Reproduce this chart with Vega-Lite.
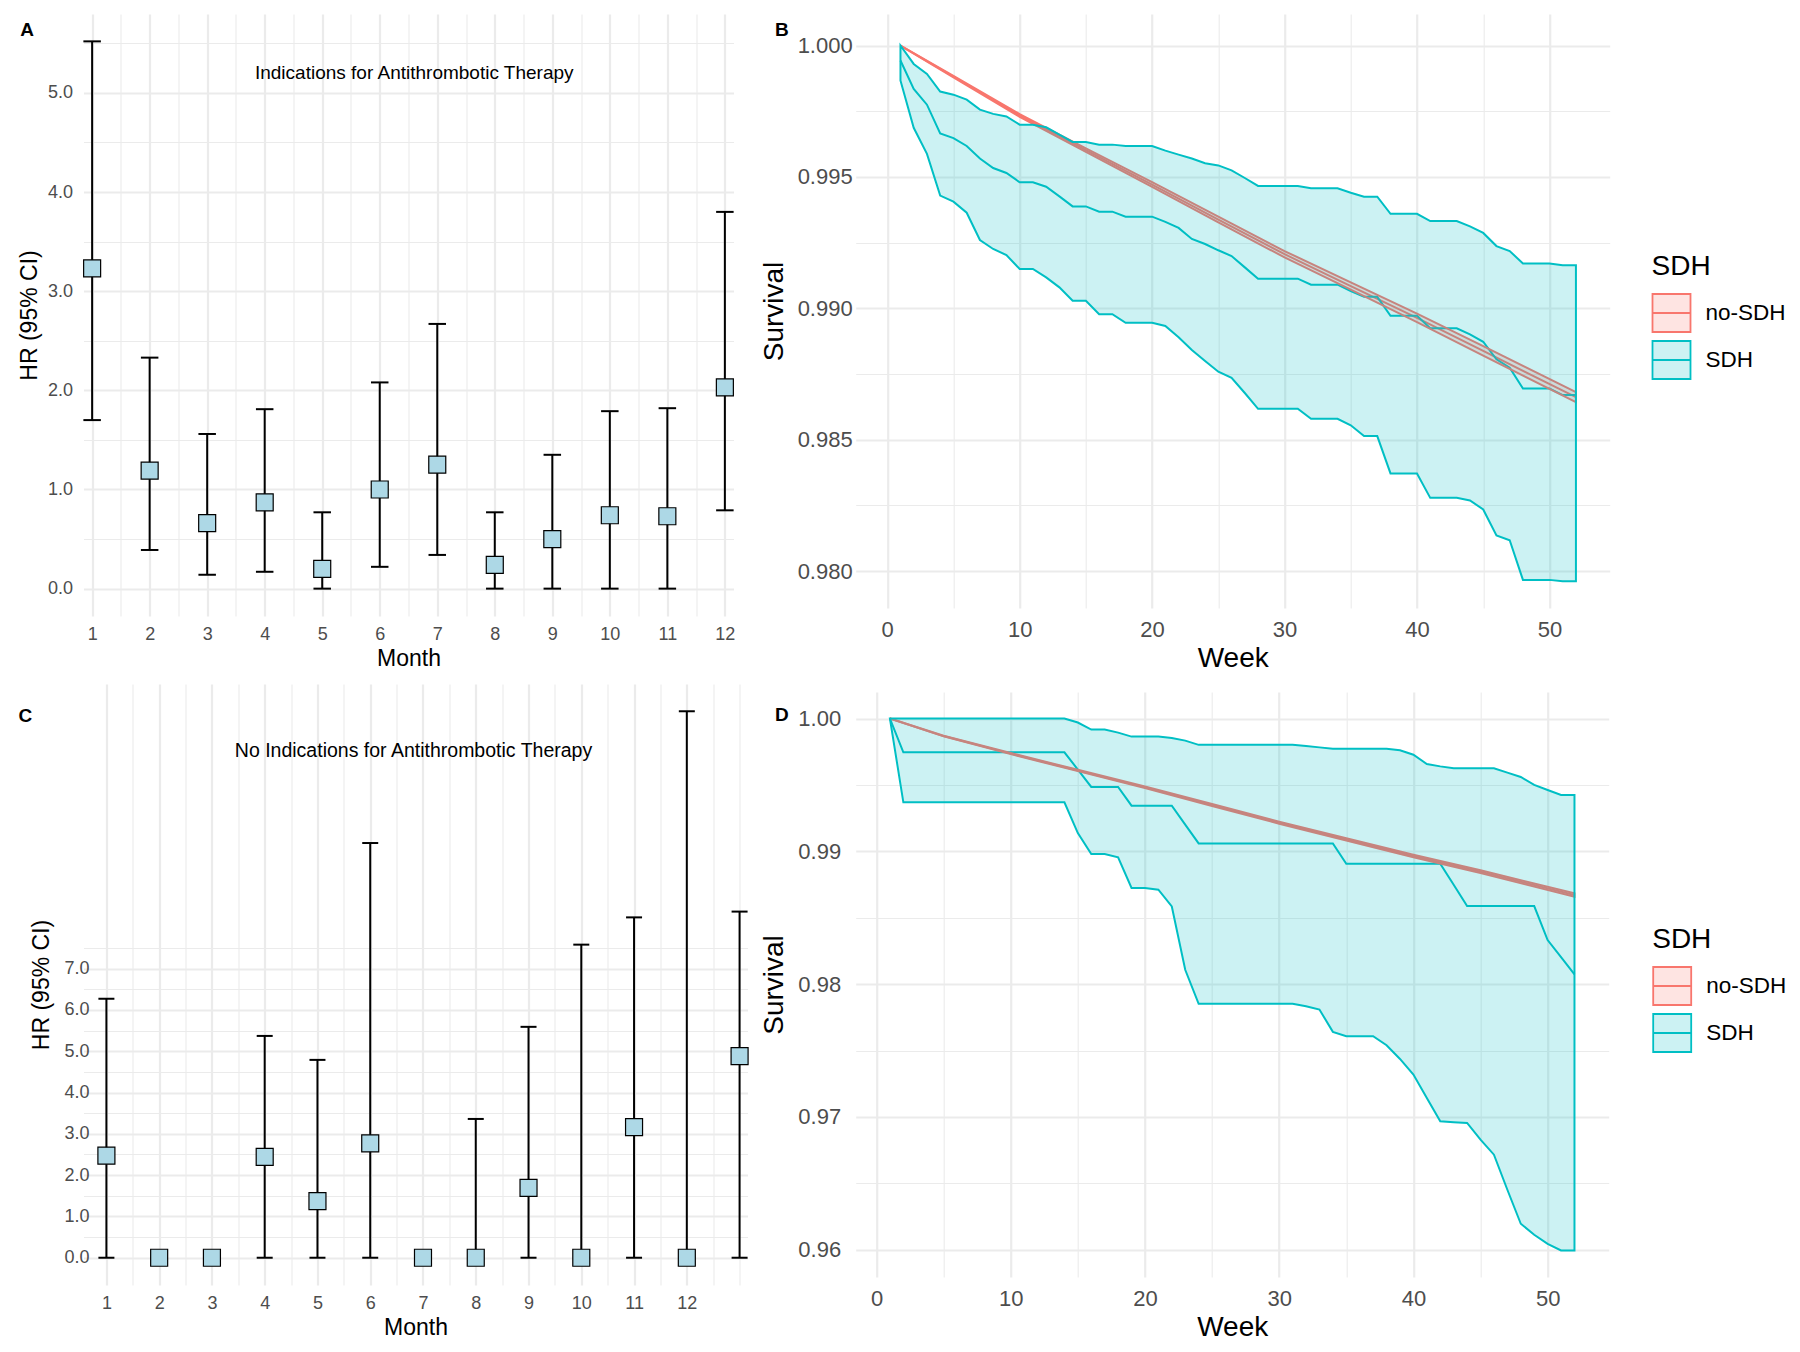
{
  "$schema": "https://vega.github.io/schema/vega-lite/v6.json",
  "background": "white",
  "padding": {"left": 17.5, "top": 14, "right": 0, "bottom": 0},
  "config": {
    "view": {"stroke": null},
    "font": "Liberation Sans",
    "axis": {"domain": false, "ticks": false, "gridColor": "#EBEBEB", "labelColor": "#4D4D4D", "titleColor": "black", "titleFontWeight": "normal", "labelFont": "Liberation Sans", "titleFont": "Liberation Sans", "labelOverlap": false, "labelFlush": false},
    "title": {"font": "Liberation Sans", "color": "black"}
  },
  "datasets": {
    "hrA": [
      {"m": 1, "hr": 3.23, "lo": 1.70, "hi": 5.52},
      {"m": 2, "hr": 1.19, "lo": 0.39, "hi": 2.33},
      {"m": 3, "hr": 0.66, "lo": 0.14, "hi": 1.56},
      {"m": 4, "hr": 0.87, "lo": 0.17, "hi": 1.81},
      {"m": 5, "hr": 0.20, "lo": 0.0, "hi": 0.77},
      {"m": 6, "hr": 1.00, "lo": 0.22, "hi": 2.08},
      {"m": 7, "hr": 1.25, "lo": 0.34, "hi": 2.67},
      {"m": 8, "hr": 0.24, "lo": 0.0, "hi": 0.77},
      {"m": 9, "hr": 0.50, "lo": 0.0, "hi": 1.35},
      {"m": 10, "hr": 0.74, "lo": 0.0, "hi": 1.79},
      {"m": 11, "hr": 0.73, "lo": 0.0, "hi": 1.82},
      {"m": 12, "hr": 2.03, "lo": 0.79, "hi": 3.80}
    ],
    "hrC": [
      {"m": 1, "hr": 2.47, "lo": 0.0, "hi": 6.27},
      {"m": 2, "hr": 0.0, "lo": 0.0, "hi": 0.0},
      {"m": 3, "hr": 0.0, "lo": 0.0, "hi": 0.0},
      {"m": 4, "hr": 2.44, "lo": 0.0, "hi": 5.37},
      {"m": 5, "hr": 1.37, "lo": 0.0, "hi": 4.79},
      {"m": 6, "hr": 2.77, "lo": 0.0, "hi": 10.04},
      {"m": 7, "hr": 0.0, "lo": 0.0, "hi": 0.0},
      {"m": 8, "hr": 0.0, "lo": 0.0, "hi": 3.36},
      {"m": 9, "hr": 1.69, "lo": 0.0, "hi": 5.59},
      {"m": 10, "hr": 0.0, "lo": 0.0, "hi": 7.58},
      {"m": 11, "hr": 3.16, "lo": 0.0, "hi": 8.24},
      {"m": 12, "hr": 0.0, "lo": 0.0, "hi": 13.23},
      {"m": 13, "hr": 4.88, "lo": 0.0, "hi": 8.38}
    ],
    "svB": [
      {"g": "no-SDH", "w": 1, "s": 1.0, "lo": 1.0, "hi": 1.0},
      {"g": "no-SDH", "w": 5, "s": 0.99882, "lo": 0.99879, "hi": 0.99885},
      {"g": "no-SDH", "w": 10, "s": 0.99734, "lo": 0.99729, "hi": 0.99739},
      {"g": "no-SDH", "w": 15, "s": 0.99602, "lo": 0.99595, "hi": 0.99609},
      {"g": "no-SDH", "w": 20, "s": 0.99471, "lo": 0.99462, "hi": 0.99480},
      {"g": "no-SDH", "w": 25, "s": 0.99338, "lo": 0.99327, "hi": 0.99349},
      {"g": "no-SDH", "w": 30, "s": 0.99206, "lo": 0.99194, "hi": 0.99218},
      {"g": "no-SDH", "w": 35, "s": 0.99085, "lo": 0.99071, "hi": 0.99099},
      {"g": "no-SDH", "w": 40, "s": 0.98964, "lo": 0.98948, "hi": 0.98980},
      {"g": "no-SDH", "w": 45, "s": 0.98838, "lo": 0.98820, "hi": 0.98856},
      {"g": "no-SDH", "w": 52, "s": 0.98662, "lo": 0.98643, "hi": 0.98681},
      {"g": "SDH", "w": 1, "s": 0.99943, "lo": 0.99867, "hi": 1.0},
      {"g": "SDH", "w": 2, "s": 0.99835, "lo": 0.99687, "hi": 0.99930},
      {"g": "SDH", "w": 3, "s": 0.99775, "lo": 0.99588, "hi": 0.99892},
      {"g": "SDH", "w": 4, "s": 0.99666, "lo": 0.99429, "hi": 0.99825},
      {"g": "SDH", "w": 5, "s": 0.99648, "lo": 0.99406, "hi": 0.99813},
      {"g": "SDH", "w": 6, "s": 0.99618, "lo": 0.99364, "hi": 0.99794},
      {"g": "SDH", "w": 7, "s": 0.99570, "lo": 0.99260, "hi": 0.99756},
      {"g": "SDH", "w": 8, "s": 0.99534, "lo": 0.99226, "hi": 0.99740},
      {"g": "SDH", "w": 9, "s": 0.99515, "lo": 0.99203, "hi": 0.99730},
      {"g": "SDH", "w": 10, "s": 0.99480, "lo": 0.99150, "hi": 0.99699},
      {"g": "SDH", "w": 11, "s": 0.99480, "lo": 0.99150, "hi": 0.99699},
      {"g": "SDH", "w": 12, "s": 0.99463, "lo": 0.99118, "hi": 0.99689},
      {"g": "SDH", "w": 13, "s": 0.99426, "lo": 0.99080, "hi": 0.99661},
      {"g": "SDH", "w": 14, "s": 0.99388, "lo": 0.99029, "hi": 0.99633},
      {"g": "SDH", "w": 15, "s": 0.99388, "lo": 0.99029, "hi": 0.99633},
      {"g": "SDH", "w": 16, "s": 0.99368, "lo": 0.98978, "hi": 0.99623},
      {"g": "SDH", "w": 17, "s": 0.99368, "lo": 0.98978, "hi": 0.99623},
      {"g": "SDH", "w": 18, "s": 0.99349, "lo": 0.98945, "hi": 0.99618},
      {"g": "SDH", "w": 19, "s": 0.99349, "lo": 0.98945, "hi": 0.99618},
      {"g": "SDH", "w": 20, "s": 0.99349, "lo": 0.98945, "hi": 0.99618},
      {"g": "SDH", "w": 21, "s": 0.99329, "lo": 0.98933, "hi": 0.99600},
      {"g": "SDH", "w": 22, "s": 0.99306, "lo": 0.98890, "hi": 0.99585},
      {"g": "SDH", "w": 23, "s": 0.99264, "lo": 0.98842, "hi": 0.99570},
      {"g": "SDH", "w": 24, "s": 0.99245, "lo": 0.98800, "hi": 0.99552},
      {"g": "SDH", "w": 25, "s": 0.99221, "lo": 0.98759, "hi": 0.99544},
      {"g": "SDH", "w": 26, "s": 0.99199, "lo": 0.98736, "hi": 0.99525},
      {"g": "SDH", "w": 27, "s": 0.99156, "lo": 0.98678, "hi": 0.99496},
      {"g": "SDH", "w": 28, "s": 0.99113, "lo": 0.98618, "hi": 0.99466},
      {"g": "SDH", "w": 29, "s": 0.99113, "lo": 0.98618, "hi": 0.99466},
      {"g": "SDH", "w": 30, "s": 0.99113, "lo": 0.98618, "hi": 0.99466},
      {"g": "SDH", "w": 31, "s": 0.99113, "lo": 0.98618, "hi": 0.99466},
      {"g": "SDH", "w": 32, "s": 0.99090, "lo": 0.98580, "hi": 0.99457},
      {"g": "SDH", "w": 33, "s": 0.99090, "lo": 0.98580, "hi": 0.99457},
      {"g": "SDH", "w": 34, "s": 0.99090, "lo": 0.98580, "hi": 0.99457},
      {"g": "SDH", "w": 35, "s": 0.99066, "lo": 0.98555, "hi": 0.99440},
      {"g": "SDH", "w": 36, "s": 0.99044, "lo": 0.98514, "hi": 0.99425},
      {"g": "SDH", "w": 37, "s": 0.99044, "lo": 0.98514, "hi": 0.99425},
      {"g": "SDH", "w": 38, "s": 0.98972, "lo": 0.98372, "hi": 0.99360},
      {"g": "SDH", "w": 39, "s": 0.98972, "lo": 0.98372, "hi": 0.99360},
      {"g": "SDH", "w": 40, "s": 0.98972, "lo": 0.98372, "hi": 0.99360},
      {"g": "SDH", "w": 41, "s": 0.98924, "lo": 0.98279, "hi": 0.99332},
      {"g": "SDH", "w": 42, "s": 0.98924, "lo": 0.98279, "hi": 0.99332},
      {"g": "SDH", "w": 43, "s": 0.98924, "lo": 0.98279, "hi": 0.99332},
      {"g": "SDH", "w": 44, "s": 0.98901, "lo": 0.98269, "hi": 0.99312},
      {"g": "SDH", "w": 45, "s": 0.98873, "lo": 0.98235, "hi": 0.99287},
      {"g": "SDH", "w": 46, "s": 0.98806, "lo": 0.98136, "hi": 0.99237},
      {"g": "SDH", "w": 47, "s": 0.98774, "lo": 0.98118, "hi": 0.99218},
      {"g": "SDH", "w": 48, "s": 0.98695, "lo": 0.97967, "hi": 0.99171},
      {"g": "SDH", "w": 49, "s": 0.98695, "lo": 0.97967, "hi": 0.99171},
      {"g": "SDH", "w": 50, "s": 0.98695, "lo": 0.97967, "hi": 0.99171},
      {"g": "SDH", "w": 51, "s": 0.98670, "lo": 0.97962, "hi": 0.99164},
      {"g": "SDH", "w": 52, "s": 0.98670, "lo": 0.97962, "hi": 0.99164}
    ],
    "svD": [
      {"g": "no-SDH", "w": 1, "s": 1.0, "lo": 1.0, "hi": 1.0},
      {"g": "no-SDH", "w": 5, "s": 0.99868, "lo": 0.99866, "hi": 0.99870},
      {"g": "no-SDH", "w": 10, "s": 0.99736, "lo": 0.99732, "hi": 0.99740},
      {"g": "no-SDH", "w": 15, "s": 0.99609, "lo": 0.99604, "hi": 0.99614},
      {"g": "no-SDH", "w": 20, "s": 0.99482, "lo": 0.99476, "hi": 0.99488},
      {"g": "no-SDH", "w": 25, "s": 0.99349, "lo": 0.99342, "hi": 0.99356},
      {"g": "no-SDH", "w": 30, "s": 0.99216, "lo": 0.99208, "hi": 0.99224},
      {"g": "no-SDH", "w": 35, "s": 0.99090, "lo": 0.99081, "hi": 0.99099},
      {"g": "no-SDH", "w": 40, "s": 0.98965, "lo": 0.98955, "hi": 0.98975},
      {"g": "no-SDH", "w": 45, "s": 0.98847, "lo": 0.98836, "hi": 0.98858},
      {"g": "no-SDH", "w": 52, "s": 0.98671, "lo": 0.98658, "hi": 0.98684},
      {"g": "SDH", "w": 1, "s": 1.0, "lo": 1.0, "hi": 1.0},
      {"g": "SDH", "w": 2, "s": 0.99746, "lo": 0.99369, "hi": 1.0},
      {"g": "SDH", "w": 3, "s": 0.99746, "lo": 0.99369, "hi": 1.0},
      {"g": "SDH", "w": 4, "s": 0.99746, "lo": 0.99369, "hi": 1.0},
      {"g": "SDH", "w": 5, "s": 0.99746, "lo": 0.99369, "hi": 1.0},
      {"g": "SDH", "w": 6, "s": 0.99746, "lo": 0.99369, "hi": 1.0},
      {"g": "SDH", "w": 7, "s": 0.99746, "lo": 0.99369, "hi": 1.0},
      {"g": "SDH", "w": 8, "s": 0.99746, "lo": 0.99369, "hi": 1.0},
      {"g": "SDH", "w": 9, "s": 0.99746, "lo": 0.99369, "hi": 1.0},
      {"g": "SDH", "w": 10, "s": 0.99746, "lo": 0.99369, "hi": 1.0},
      {"g": "SDH", "w": 11, "s": 0.99746, "lo": 0.99369, "hi": 1.0},
      {"g": "SDH", "w": 12, "s": 0.99746, "lo": 0.99369, "hi": 1.0},
      {"g": "SDH", "w": 13, "s": 0.99746, "lo": 0.99369, "hi": 1.0},
      {"g": "SDH", "w": 14, "s": 0.99746, "lo": 0.99369, "hi": 1.0},
      {"g": "SDH", "w": 15, "s": 0.99616, "lo": 0.99138, "hi": 0.99970},
      {"g": "SDH", "w": 16, "s": 0.99485, "lo": 0.98980, "hi": 0.99917},
      {"g": "SDH", "w": 17, "s": 0.99485, "lo": 0.98980, "hi": 0.99917},
      {"g": "SDH", "w": 18, "s": 0.99485, "lo": 0.98955, "hi": 0.99894},
      {"g": "SDH", "w": 19, "s": 0.99344, "lo": 0.98724, "hi": 0.99864},
      {"g": "SDH", "w": 20, "s": 0.99344, "lo": 0.98724, "hi": 0.99864},
      {"g": "SDH", "w": 21, "s": 0.99344, "lo": 0.98711, "hi": 0.99864},
      {"g": "SDH", "w": 22, "s": 0.99344, "lo": 0.98585, "hi": 0.99854},
      {"g": "SDH", "w": 23, "s": 0.99201, "lo": 0.98108, "hi": 0.99834},
      {"g": "SDH", "w": 24, "s": 0.99060, "lo": 0.97852, "hi": 0.99802},
      {"g": "SDH", "w": 25, "s": 0.99060, "lo": 0.97852, "hi": 0.99802},
      {"g": "SDH", "w": 26, "s": 0.99060, "lo": 0.97852, "hi": 0.99802},
      {"g": "SDH", "w": 27, "s": 0.99060, "lo": 0.97852, "hi": 0.99802},
      {"g": "SDH", "w": 28, "s": 0.99060, "lo": 0.97852, "hi": 0.99802},
      {"g": "SDH", "w": 29, "s": 0.99060, "lo": 0.97852, "hi": 0.99802},
      {"g": "SDH", "w": 30, "s": 0.99060, "lo": 0.97852, "hi": 0.99802},
      {"g": "SDH", "w": 31, "s": 0.99060, "lo": 0.97852, "hi": 0.99802},
      {"g": "SDH", "w": 32, "s": 0.99060, "lo": 0.97834, "hi": 0.99793},
      {"g": "SDH", "w": 33, "s": 0.99060, "lo": 0.97809, "hi": 0.99783},
      {"g": "SDH", "w": 34, "s": 0.99060, "lo": 0.97641, "hi": 0.99773},
      {"g": "SDH", "w": 35, "s": 0.98907, "lo": 0.97608, "hi": 0.99773},
      {"g": "SDH", "w": 36, "s": 0.98907, "lo": 0.97608, "hi": 0.99773},
      {"g": "SDH", "w": 37, "s": 0.98907, "lo": 0.97608, "hi": 0.99773},
      {"g": "SDH", "w": 38, "s": 0.98907, "lo": 0.97540, "hi": 0.99773},
      {"g": "SDH", "w": 39, "s": 0.98907, "lo": 0.97437, "hi": 0.99761},
      {"g": "SDH", "w": 40, "s": 0.98907, "lo": 0.97319, "hi": 0.99728},
      {"g": "SDH", "w": 41, "s": 0.98907, "lo": 0.97143, "hi": 0.99658},
      {"g": "SDH", "w": 42, "s": 0.98907, "lo": 0.96967, "hi": 0.99640},
      {"g": "SDH", "w": 43, "s": 0.98749, "lo": 0.96960, "hi": 0.99626},
      {"g": "SDH", "w": 44, "s": 0.98588, "lo": 0.96955, "hi": 0.99626},
      {"g": "SDH", "w": 45, "s": 0.98588, "lo": 0.96829, "hi": 0.99626},
      {"g": "SDH", "w": 46, "s": 0.98588, "lo": 0.96716, "hi": 0.99626},
      {"g": "SDH", "w": 47, "s": 0.98588, "lo": 0.96452, "hi": 0.99593},
      {"g": "SDH", "w": 48, "s": 0.98588, "lo": 0.96196, "hi": 0.99560},
      {"g": "SDH", "w": 49, "s": 0.98588, "lo": 0.96113, "hi": 0.99500},
      {"g": "SDH", "w": 50, "s": 0.98332, "lo": 0.96045, "hi": 0.99462},
      {"g": "SDH", "w": 51, "s": 0.98204, "lo": 0.95995, "hi": 0.99425},
      {"g": "SDH", "w": 52, "s": 0.98073, "lo": 0.95995, "hi": 0.99425}
    ]
  },
  "spacing": 9.2,
  "resolve": {"scale": {"x": "independent", "y": "independent", "color": "independent"}, "legend": {"color": "independent"}, "axis": {"x": "independent", "y": "independent"}},
  "hconcat": [
    {
      "columns": 1,
      "spacing": 14,
      "resolve": {"scale": {"x": "independent", "y": "independent", "color": "independent"}, "legend": {"color": "independent"}, "axis": {"x": "independent", "y": "independent"}},
      "concat": [
        {
          "width": 650, "height": 602,
          "title": {"text": "A", "anchor": "start", "frame": "group", "orient": "top", "offset": -41, "dx": -63.3, "baseline": "alphabetic", "fontSize": 19, "fontWeight": "bold"},
          "data": {"name": "hrA"},
          "encoding": {
            "x": {"field": "m", "type": "quantitative", "scale": {"domain": [0.85, 12.15], "nice": false, "zero": false},
              "axis": {"title": "Month", "values": [1,1.5,2,2.5,3,3.5,4,4.5,5,5.5,6,6.5,7,7.5,8,8.5,9,9.5,10,10.5,11,11.5,12],
                "labelExpr": "datum.value % 1 === 0 ? format(datum.value, 'd') : ''",
                "gridWidth": {"condition": {"test": "datum.value % 1 !== 0", "value": 1.1}, "value": 2.2},
                "labelFontSize": 18, "titleFontSize": 23, "labelPadding": 9, "titlePadding": 4}}
          },
          "layer": [
            {"mark": {"type": "rule", "color": "black", "strokeWidth": 2},
             "encoding": {"y": {"field": "lo", "type": "quantitative", "scale": {"domain": [-0.276, 5.796], "nice": false, "zero": false},
               "axis": {"title": "HR (95% CI)", "values": [0,0.5,1,1.5,2,2.5,3,3.5,4,4.5,5,5.5],
                 "labelExpr": "datum.value % 1 === 0 ? format(datum.value, '.1f') : ''",
                 "gridWidth": {"condition": {"test": "datum.value % 1 !== 0", "value": 1.1}, "value": 2.2},
                 "labelFontSize": 18, "titleFontSize": 23, "labelPadding": 11, "titlePadding": 6}},
               "y2": {"field": "hi"}}},
            {"mark": {"type": "tick", "orient": "horizontal", "color": "black", "thickness": 2, "size": 17.5, "opacity": 1},
             "encoding": {"y": {"field": "lo", "type": "quantitative"}}},
            {"mark": {"type": "tick", "orient": "horizontal", "color": "black", "thickness": 2, "size": 17.5, "opacity": 1},
             "encoding": {"y": {"field": "hi", "type": "quantitative"}}},
            {"mark": {"type": "point", "shape": "square", "size": 289, "filled": true, "fill": "#ADD8E6", "stroke": "black", "strokeWidth": 1.2, "opacity": 1},
             "encoding": {"y": {"field": "hr", "type": "quantitative"}}},
            {"data": {"values": [{"t": "Indications for Antithrombotic Therapy", "tx": 6.6, "ty": 5.2}]},
             "mark": {"type": "text", "fontSize": 19, "color": "black", "font": "Liberation Sans"},
             "encoding": {"x": {"field": "tx", "type": "quantitative"}, "y": {"field": "ty", "type": "quantitative"}, "text": {"field": "t"}}}
          ]
        },
        {
          "width": 664, "height": 601,
          "title": {"text": "C", "anchor": "start", "frame": "group", "orient": "top", "offset": -56.7, "dx": -65, "baseline": "alphabetic", "fontSize": 19, "fontWeight": "bold"},
          "data": {"name": "hrC"},
          "encoding": {
            "x": {"field": "m", "type": "quantitative", "scale": {"domain": [0.566, 13.15], "nice": false, "zero": false},
              "axis": {"title": "Month", "values": [1,1.5,2,2.5,3,3.5,4,4.5,5,5.5,6,6.5,7,7.5,8,8.5,9,9.5,10,10.5,11,11.5,12,12.5,13],
                "labelExpr": "(datum.value % 1 === 0 && datum.value < 12.5) ? format(datum.value, 'd') : ''",
                "gridWidth": {"condition": {"test": "datum.value % 1 !== 0 || datum.value > 12.5", "value": 1.1}, "value": 2.2},
                "labelFontSize": 18, "titleFontSize": 23, "labelPadding": 9, "titlePadding": 4}}
          },
          "layer": [
            {"mark": {"type": "rule", "color": "black", "strokeWidth": 2},
             "encoding": {"y": {"field": "lo", "type": "quantitative", "scale": {"domain": [-0.66, 13.89], "nice": false, "zero": false},
               "axis": {"title": "HR (95% CI)", "values": [0,0.5,1,1.5,2,2.5,3,3.5,4,4.5,5,5.5,6,6.5,7,7.5],
                 "labelExpr": "datum.value % 1 === 0 ? format(datum.value, '.1f') : ''",
                 "gridWidth": {"condition": {"test": "datum.value % 1 !== 0", "value": 1.1}, "value": 2.2},
                 "labelFontSize": 18, "titleFontSize": 23, "labelPadding": -5.5, "titlePadding": 10}},
               "y2": {"field": "hi"}}},
            {"mark": {"type": "tick", "orient": "horizontal", "color": "black", "thickness": 2, "size": 16, "opacity": 1},
             "encoding": {"y": {"field": "lo", "type": "quantitative"}}},
            {"mark": {"type": "tick", "orient": "horizontal", "color": "black", "thickness": 2, "size": 16, "opacity": 1},
             "encoding": {"y": {"field": "hi", "type": "quantitative"}}},
            {"mark": {"type": "point", "shape": "square", "size": 289, "filled": true, "fill": "#ADD8E6", "stroke": "black", "strokeWidth": 1.2, "opacity": 1},
             "encoding": {"y": {"field": "hr", "type": "quantitative"}}},
            {"data": {"values": [{"t": "No Indications for Antithrombotic Therapy", "tx": 6.82, "ty": 12.26}]},
             "mark": {"type": "text", "fontSize": 19.5, "color": "black", "font": "Liberation Sans"},
             "encoding": {"x": {"field": "tx", "type": "quantitative"}, "y": {"field": "ty", "type": "quantitative"}, "text": {"field": "t"}}}
          ]
        }
      ]
    },
    {
      "columns": 1,
      "spacing": 20,
      "resolve": {"scale": {"x": "independent", "y": "independent", "color": "independent"}, "legend": {"color": "independent"}, "axis": {"x": "independent", "y": "independent"}},
      "concat": [
        {
          "width": 754, "height": 594,
          "title": {"text": "B", "anchor": "start", "frame": "group", "orient": "top", "offset": -40.7, "dx": -80.7, "baseline": "alphabetic", "fontSize": 19, "fontWeight": "bold"},
          "data": {"name": "svB"},
          "encoding": {
            "x": {"field": "w", "type": "quantitative", "scale": {"domain": [-2.38, 54.55], "nice": false, "zero": false},
              "axis": {"title": "Week", "values": [0,5,10,15,20,25,30,35,40,45,50],
                "labelExpr": "datum.value % 10 === 0 ? format(datum.value, 'd') : ''",
                "gridWidth": {"condition": {"test": "datum.value % 10 !== 0", "value": 1.1}, "value": 2.2},
                "labelFontSize": 22, "titleFontSize": 28, "labelPadding": 11, "titlePadding": 4}}
          },
          "layer": [
            {"mark": {"type": "line", "strokeWidth": 2, "clip": true},
             "encoding": {
               "y": {"field": "s", "type": "quantitative", "scale": {"domain": [0.9786, 1.0012], "nice": false, "zero": false},
                 "axis": {"title": "Survival", "values": [0.98,0.9825,0.985,0.9875,0.99,0.9925,0.995,0.9975,1.0],
                   "labelExpr": "abs(datum.value*200 - round(datum.value*200)) < 0.01 ? format(datum.value, '.3f') : ''",
                   "gridWidth": {"condition": {"test": "abs(datum.value*200 - round(datum.value*200)) > 0.01", "value": 1.1}, "value": 2.2},
                   "labelFontSize": 22, "titleFontSize": 28, "labelPadding": 3.5, "titlePadding": 9}},
               "color": {"field": "g", "type": "nominal", "scale": {"domain": ["no-SDH", "SDH"], "range": ["#F8766D", "#00BFC4"]},
                 "legend": {"title": "SDH", "orient": "none", "legendX": 795.8, "legendY": 239, "padding": 0,
                   "titleFontSize": 28, "titleFontWeight": "normal", "titleColor": "black", "titlePadding": 12,
                   "labelFontSize": 22.5, "labelColor": "black", "labelOffset": 14,
                   "symbolType": "M-1,-1H1V1H-1Z M-1,0H1", "symbolSize": 1444, "symbolStrokeWidth": 1.6, "rowPadding": 1,
                   "encode": {"symbols": {"update": {
                     "fill": {"signal": "datum.value === 'no-SDH' ? '#F8766D' : '#00BFC4'"},
                     "stroke": {"signal": "datum.value === 'no-SDH' ? '#F8766D' : '#00BFC4'"},
                     "fillOpacity": {"value": 0.2}, "strokeOpacity": {"value": 1}, "opacity": {"value": 1}, "strokeWidth": {"value": 1.8}}}}}}
             }},
            {"transform": [{"filter": "datum.g === 'no-SDH'"}],
             "mark": {"type": "area", "fillOpacity": 0.2, "opacity": 1, "stroke": "#F8766D", "strokeWidth": 2, "clip": true},
             "encoding": {"y": {"field": "lo", "type": "quantitative"}, "y2": {"field": "hi"}, "color": {"field": "g", "type": "nominal"}}},
            {"transform": [{"filter": "datum.g === 'SDH'"}],
             "mark": {"type": "area", "fillOpacity": 0.2, "opacity": 1, "stroke": "#00BFC4", "strokeWidth": 2, "clip": true},
             "encoding": {"y": {"field": "lo", "type": "quantitative"}, "y2": {"field": "hi"}, "color": {"field": "g", "type": "nominal"}}}
          ]
        },
        {
          "width": 753, "height": 585,
          "title": {"text": "D", "anchor": "start", "frame": "group", "orient": "top", "offset": -48.4, "dx": -80.7, "baseline": "alphabetic", "fontSize": 19, "fontWeight": "bold"},
          "data": {"name": "svD"},
          "encoding": {
            "x": {"field": "w", "type": "quantitative", "scale": {"domain": [-1.55, 54.55], "nice": false, "zero": false},
              "axis": {"title": "Week", "values": [0,5,10,15,20,25,30,35,40,45,50],
                "labelExpr": "datum.value % 10 === 0 ? format(datum.value, 'd') : ''",
                "gridWidth": {"condition": {"test": "datum.value % 10 !== 0", "value": 1.1}, "value": 2.2},
                "labelFontSize": 22, "titleFontSize": 28, "labelPadding": 11, "titlePadding": 4}}
          },
          "layer": [
            {"mark": {"type": "line", "strokeWidth": 2, "clip": true},
             "encoding": {
               "y": {"field": "s", "type": "quantitative", "scale": {"domain": [0.95795, 1.002], "nice": false, "zero": false},
                 "axis": {"title": "Survival", "values": [0.96,0.965,0.97,0.975,0.98,0.985,0.99,0.995,1.0],
                   "labelExpr": "abs(datum.value*100 - round(datum.value*100)) < 0.01 ? format(datum.value, '.2f') : ''",
                   "gridWidth": {"condition": {"test": "abs(datum.value*100 - round(datum.value*100)) > 0.01", "value": 1.1}, "value": 2.2},
                   "labelFontSize": 22, "titleFontSize": 28, "labelPadding": 15, "titlePadding": 9}},
               "color": {"field": "g", "type": "nominal", "scale": {"domain": ["no-SDH", "SDH"], "range": ["#F8766D", "#00BFC4"]},
                 "legend": {"title": "SDH", "orient": "none", "legendX": 796.5, "legendY": 234, "padding": 0,
                   "titleFontSize": 28, "titleFontWeight": "normal", "titleColor": "black", "titlePadding": 12,
                   "labelFontSize": 22.5, "labelColor": "black", "labelOffset": 14,
                   "symbolType": "M-1,-1H1V1H-1Z M-1,0H1", "symbolSize": 1444, "symbolStrokeWidth": 1.6, "rowPadding": 1,
                   "encode": {"symbols": {"update": {
                     "fill": {"signal": "datum.value === 'no-SDH' ? '#F8766D' : '#00BFC4'"},
                     "stroke": {"signal": "datum.value === 'no-SDH' ? '#F8766D' : '#00BFC4'"},
                     "fillOpacity": {"value": 0.2}, "strokeOpacity": {"value": 1}, "opacity": {"value": 1}, "strokeWidth": {"value": 1.8}}}}}}
             }},
            {"transform": [{"filter": "datum.g === 'no-SDH'"}],
             "mark": {"type": "area", "fillOpacity": 0.2, "opacity": 1, "stroke": "#F8766D", "strokeWidth": 2, "clip": true},
             "encoding": {"y": {"field": "lo", "type": "quantitative"}, "y2": {"field": "hi"}, "color": {"field": "g", "type": "nominal"}}},
            {"transform": [{"filter": "datum.g === 'SDH'"}],
             "mark": {"type": "area", "fillOpacity": 0.2, "opacity": 1, "stroke": "#00BFC4", "strokeWidth": 2, "clip": true},
             "encoding": {"y": {"field": "lo", "type": "quantitative"}, "y2": {"field": "hi"}, "color": {"field": "g", "type": "nominal"}}}
          ]
        }
      ]
    }
  ]
}
